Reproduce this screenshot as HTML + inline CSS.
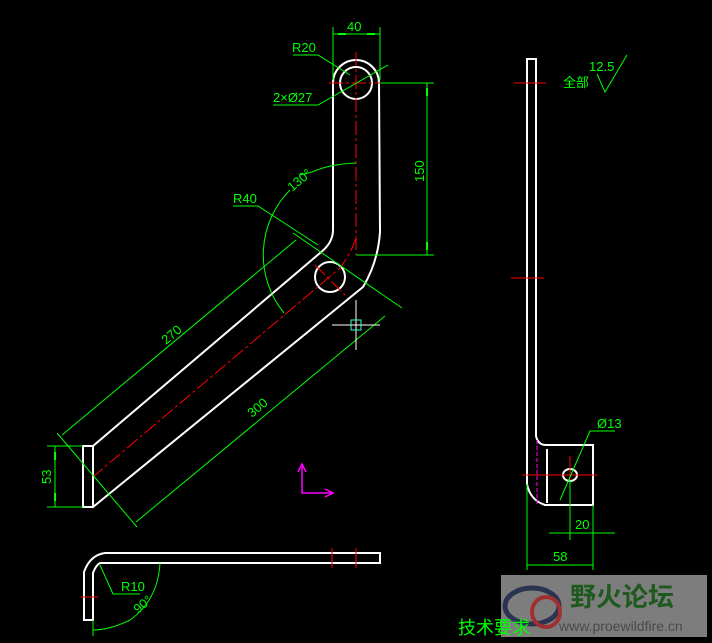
<!DOCTYPE html>
<html><head><meta charset="utf-8"><style>
html,body{margin:0;padding:0;background:#000;}
svg{display:block}
text{font-family:"Liberation Sans Narrow","Liberation Sans","Noto Sans CJK SC",sans-serif;}
</style></head><body>
<svg width="712" height="643" viewBox="0 0 712 643" xmlns="http://www.w3.org/2000/svg">
<rect width="712" height="643" fill="#000"/>
<g fill="none" stroke="#fff" stroke-width="2">
  <path d="M333,83 A23,23 0 0 1 379,83 L380,232 Q378,262 363,287 L93,507 L83,507 L83,446 L93,446 L320,253 Q333,243 333,230 Z"/>
  <line x1="93" y1="446" x2="93" y2="507"/>
  <circle cx="356" cy="83" r="16"/>
  <circle cx="330" cy="277" r="15"/>
</g>
<g stroke="#f00" stroke-width="1" stroke-dasharray="14,3,3,3" fill="none">
  <line x1="356" y1="52" x2="356" y2="255"/>
  <line x1="329" y1="83" x2="384" y2="83"/>
  <path d="M356,238 Q350,255 340,268 L94,476"/>
  <line x1="315" y1="265" x2="348" y2="298"/>
</g>
<g stroke="#0f0" stroke-width="1" fill="none">
  <line x1="333" y1="27" x2="333" y2="80"/>
  <line x1="380" y1="27" x2="380" y2="80"/>
  <line x1="333" y1="34" x2="380" y2="34"/>
  <line x1="380" y1="83" x2="434" y2="83"/>
  <line x1="356" y1="255" x2="434" y2="255"/>
  <line x1="427" y1="83" x2="427" y2="255"/>
  <polyline points="293,55 318,55 350,75"/>
  <polyline points="273,105 318,105 388,65"/>
  <polyline points="233,206 258,206 318,245"/>
  <path d="M356,163 Q330,164 312,172 L300,175"/>
  <path d="M290,190 A92,92 0 0 0 284,313"/>
  <line x1="57" y1="433" x2="137" y2="527"/>
  <line x1="293" y1="233" x2="402" y2="308"/>
  <line x1="62" y1="435" x2="296" y2="240"/>
  <line x1="136" y1="522" x2="385" y2="316"/>
  <line x1="47" y1="446" x2="83" y2="446"/>
  <line x1="47" y1="507" x2="83" y2="507"/>
  <line x1="55" y1="446" x2="55" y2="507"/>
</g>
<g fill="#0f0">
  <rect x="338" y="33" width="8" height="2"/><rect x="367" y="33" width="8" height="2"/>
  <rect x="426" y="88" width="2" height="8"/><rect x="426" y="242" width="2" height="8"/>
  <rect x="54" y="452" width="2" height="8"/><rect x="54" y="493" width="2" height="8"/>
</g>
<g fill="#0f0" font-size="13">
  <text x="347" y="31">40</text>
  <text x="292" y="52">R20</text>
  <text x="273" y="102">2×Ø27</text>
  <text x="233" y="203">R40</text>
  <text transform="translate(424,182) rotate(-90)">150</text>
  <text transform="translate(292,192) rotate(-40)">130°</text>
  <text transform="translate(166,345) rotate(-40)">270</text>
  <text transform="translate(252,418) rotate(-40)">300</text>
  <text transform="translate(51,484) rotate(-90)">53</text>
</g>
<g stroke="#f0f" stroke-width="1.5" fill="none">
  <polyline points="302,464 302,493 333,493"/>
  <polyline points="298,472 302,464 306,472"/>
  <polyline points="325,489 333,493 325,497"/>
</g>
<g stroke="#fff" stroke-width="1">
  <line x1="332" y1="325" x2="380" y2="325"/>
  <line x1="356" y1="300" x2="356" y2="350"/>
</g>
<rect x="351" y="320" width="10" height="10" fill="none" stroke="#3fc" stroke-width="1"/>
<g fill="none" stroke="#fff" stroke-width="2">
  <path d="M380,553 L105,553 Q90,555 84,572 L84,620 L93,620 L93,573 Q96,565 100,563 L380,563 Z"/>
</g>
<g stroke="#f00" stroke-width="1">
  <line x1="332" y1="548" x2="332" y2="568"/>
  <line x1="356" y1="548" x2="356" y2="568"/>
  <line x1="81" y1="597" x2="98" y2="597"/>
</g>
<g stroke="#0f0" stroke-width="1" fill="none">
  <polyline points="100,565 113,594 140,594"/>
  <path d="M160,563 Q158,600 130,620 Q110,630 93,630"/>
  <line x1="93" y1="620" x2="93" y2="636"/>
</g>
<g fill="#0f0" font-size="13">
  <text x="121" y="591">R10</text>
  <text transform="translate(138,614) rotate(-40)">90°</text>
</g>
<g fill="none" stroke="#fff" stroke-width="2">
  <path d="M527,59 L536,59 L536,436 Q538,445 546,445 L593,445 L593,505 L545,505 Q530,500 527,484 Z"/>
  <line x1="547" y1="449" x2="547" y2="503"/>
  <ellipse cx="570" cy="475" rx="7" ry="6"/>
</g>
<line x1="537" y1="440" x2="537" y2="505" stroke="#f0f" stroke-width="1" stroke-dasharray="4,2"/>
<g stroke="#f00" stroke-width="1">
  <line x1="514" y1="83" x2="546" y2="83"/>
  <line x1="511" y1="278" x2="544" y2="278"/>
  <line x1="522" y1="475" x2="597" y2="475"/>
  <line x1="570" y1="456" x2="570" y2="480"/>
</g>
<g stroke="#0f0" stroke-width="1" fill="none">
  <line x1="527" y1="484" x2="527" y2="570"/>
  <line x1="593" y1="505" x2="593" y2="570"/>
  <line x1="527" y1="565" x2="593" y2="565"/>
  <line x1="570" y1="480" x2="570" y2="540"/>
  <line x1="549" y1="533" x2="615" y2="533"/>
  <polyline points="615,431 590,431 560,500"/>
  <polyline points="597,74 605,92 627,55"/>
</g>
<g fill="#0f0" font-size="13">
  <text x="553" y="561">58</text>
  <text x="575" y="529">20</text>
  <text x="597" y="428">Ø13</text>
  <text x="589" y="71">12.5</text>
  <text x="563" y="87" font-family="'Noto Sans CJK SC',sans-serif" font-size="13">全部</text>
</g>
<rect x="501" y="575" width="206" height="62" fill="#7d7d7d"/>
<ellipse cx="532" cy="606" rx="27" ry="18" fill="none" stroke="#2a3350" stroke-width="5"/>
<ellipse cx="546" cy="612" rx="14" ry="15" fill="none" stroke="#a03030" stroke-width="4"/>
<text x="570" y="606" font-family="'Noto Sans CJK SC',sans-serif" font-size="26" font-weight="bold" fill="#1e5a1e">野火论坛</text>
<text x="559" y="631" font-family="'Liberation Sans',sans-serif" font-size="14" fill="#4a4a4a">www.proewildfire.cn</text>
<text x="458" y="634" font-family="'Noto Sans CJK SC',sans-serif" font-size="18" fill="#0f0">技术要求</text>
</svg>
</body></html>
